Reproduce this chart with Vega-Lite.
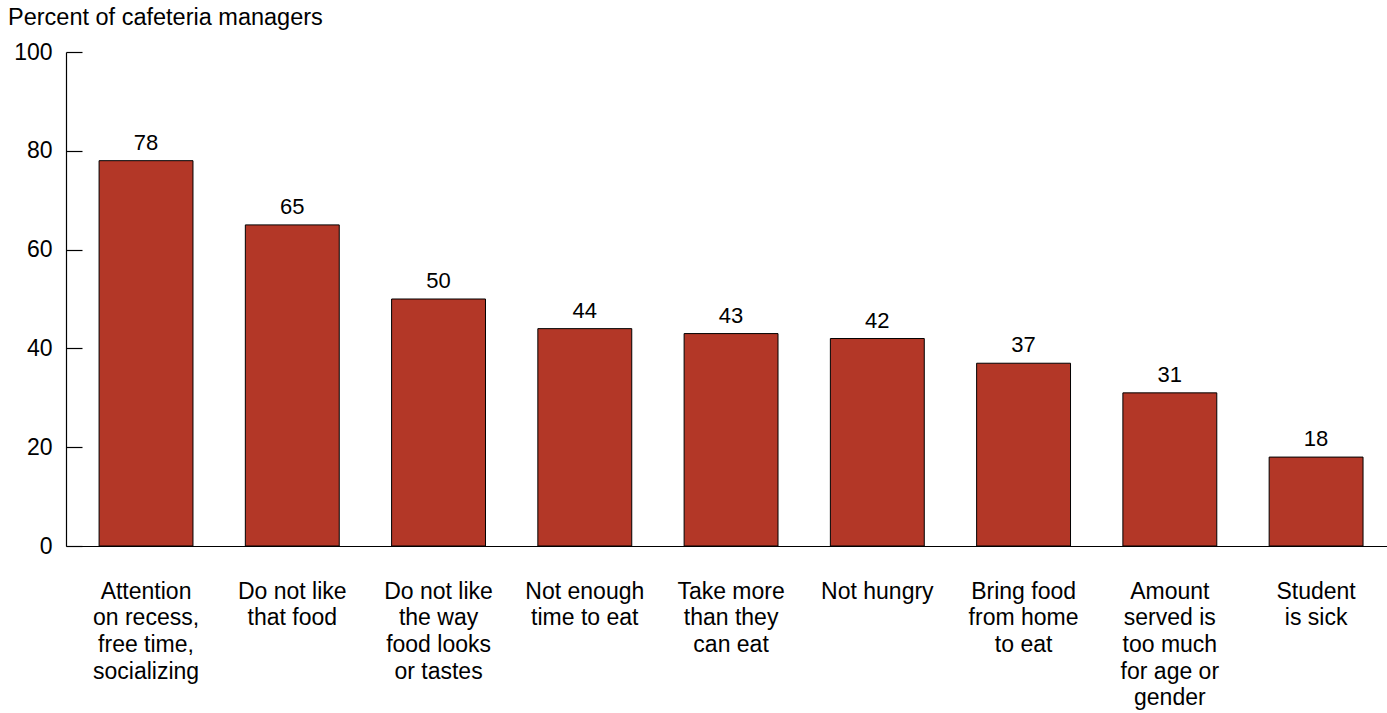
{
  "$schema": "https://vega.github.io/schema/vega-lite/v6.json",
  "width": 1321,
  "height": 494,
  "autosize": {"type": "none"},
  "padding": {"left": 66, "top": 52, "right": 0, "bottom": 167},
  "background": "white",
  "config": {
    "view": {"stroke": null},
    "font": "Liberation Sans",
    "axis": {"labelFont": "Liberation Sans", "labelColor": "black", "domainColor": "black", "tickColor": "black"}
  },
  "title": {
    "text": "Percent of cafeteria managers",
    "anchor": "start",
    "frame": "group",
    "orient": "top",
    "offset": 0,
    "dx": -58,
    "dy": 12,
    "fontSize": 23.5,
    "fontWeight": "normal",
    "font": "Liberation Sans",
    "color": "black",
    "baseline": "bottom"
  },
  "data": {
    "values": [
      {"reason": "Attention|on recess,|free time,|socializing", "pct": 78},
      {"reason": "Do not like|that food", "pct": 65},
      {"reason": "Do not like|the way|food looks|or tastes", "pct": 50},
      {"reason": "Not enough|time to eat", "pct": 44},
      {"reason": "Take more|than they|can eat", "pct": 43},
      {"reason": "Not hungry", "pct": 42},
      {"reason": "Bring food|from home|to eat", "pct": 37},
      {"reason": "Amount|served is|too much|for age or|gender", "pct": 31},
      {"reason": "Student|is sick", "pct": 18}
    ]
  },
  "encoding": {
    "x": {
      "field": "reason",
      "type": "nominal",
      "sort": null,
      "scale": {"paddingInner": 0.358, "paddingOuter": 0.195, "align": 0.58},
      "axis": {
        "title": null,
        "labelAngle": 0,
        "ticks": false,
        "labelPadding": 34,
        "labelFontSize": 23,
        "labelLineHeight": 26.7,
        "labelBaseline": "top",
        "labelExpr": "split(datum.label, '|')",
        "domainWidth": 1.2
      }
    },
    "y": {
      "field": "pct",
      "type": "quantitative",
      "scale": {"domain": [0, 100], "nice": false},
      "axis": {
        "title": null,
        "values": [0, 20, 40, 60, 80, 100],
        "grid": false,
        "tickSize": -16,
        "tickWidth": 1.2,
        "domainWidth": 1.2,
        "labelPadding": 30,
        "labelFontSize": 23
      }
    }
  },
  "layer": [
    {"mark": {"type": "bar", "color": "#b33727", "stroke": "black", "strokeWidth": 1}},
    {
      "mark": {"type": "text", "baseline": "bottom", "dy": -6, "fontSize": 22, "color": "black"},
      "encoding": {"text": {"field": "pct", "type": "quantitative"}}
    }
  ]
}
